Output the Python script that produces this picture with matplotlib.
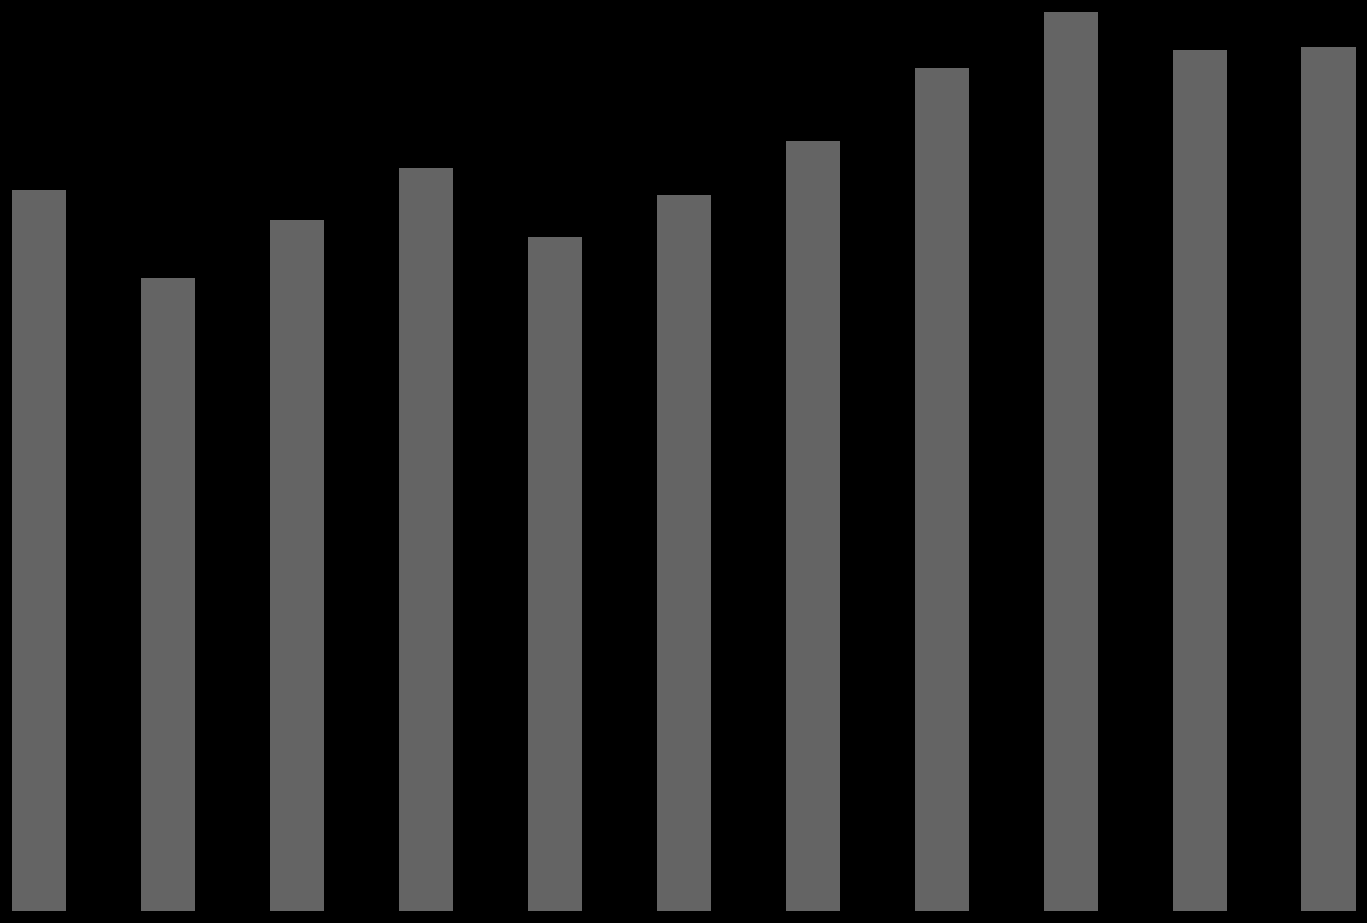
#importing the required libraries
import numpy as np
from matplotlib import pyplot as plt

#bar heights (no labels or axes are shown)
categories = list(range(11))
values = [721, 633, 691, 743, 674, 716, 770, 843, 899, 861, 864]

#black canvas with an axes filling the whole figure
fig = plt.figure(figsize=(13.67, 9.23), dpi=100, facecolor='black')
ax = fig.add_axes([0, 0, 1, 1])
ax.set_facecolor('black')

#plotting the grey bars
ax.bar(categories, values, width=0.42, color='#646464', linewidth=0)

ax.set_xlim(-0.304, 10.298)
ax.set_ylim(-12, 911)
ax.axis('off')

plt.savefig('out.png', dpi=100, facecolor='black')
